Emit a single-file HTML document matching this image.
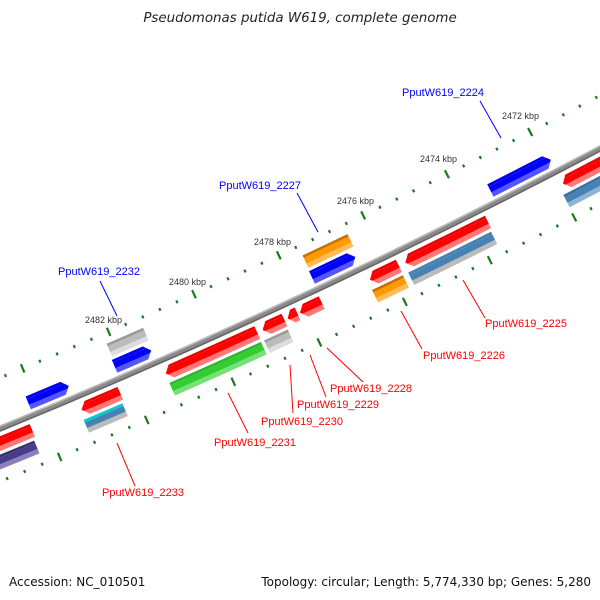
<!DOCTYPE html>
<html><head><meta charset="utf-8">
<style>
html,body{margin:0;padding:0;background:#fff;}
svg{display:block;font-family:"Liberation Sans",sans-serif;}
</style></head>
<body>
<svg id="s" width="600" height="600" viewBox="0 0 600 600" xmlns="http://www.w3.org/2000/svg">
<rect width="600" height="600" fill="#fff"/>
<g id="ticks"></g>
<g id="bb"></g>
<g id="feat"></g>
<g stroke-width="1">
<line x1="480" y1="101" x2="501" y2="138" stroke="#0000ff"/>
<line x1="297" y1="193" x2="318" y2="232" stroke="#0000ff"/>
<line x1="100" y1="281" x2="117" y2="316" stroke="#0000ff"/>
<line x1="463" y1="280" x2="485" y2="318" stroke="#ff0000"/>
<line x1="401" y1="311" x2="422" y2="349" stroke="#ff0000"/>
<line x1="327" y1="348" x2="363" y2="382" stroke="#ff0000"/>
<line x1="310" y1="355" x2="326" y2="397" stroke="#ff0000"/>
<line x1="290" y1="365" x2="293" y2="413" stroke="#ff0000"/>
<line x1="228" y1="393" x2="248" y2="433" stroke="#ff0000"/>
<line x1="117" y1="443" x2="135" y2="486" stroke="#ff0000"/>
</g>
<g font-size="11" fill="#0000ff">
<text x="402" y="96">PputW619_2224</text>
<text x="219" y="189">PputW619_2227</text>
<text x="58" y="275">PputW619_2232</text>
</g>
<g font-size="11" fill="#ff0000">
<text x="485" y="327">PputW619_2225</text>
<text x="423" y="359">PputW619_2226</text>
<text x="330" y="392">PputW619_2228</text>
<text x="297" y="408">PputW619_2229</text>
<text x="261" y="425">PputW619_2230</text>
<text x="214" y="446">PputW619_2231</text>
<text x="102" y="496">PputW619_2233</text>
</g>
<g font-size="9" fill="#333">
<text x="502" y="119">2472 kbp</text>
<text x="420" y="162">2474 kbp</text>
<text x="337" y="204">2476 kbp</text>
<text x="254" y="245">2478 kbp</text>
<text x="169" y="285">2480 kbp</text>
<text x="85" y="323">2482 kbp</text>
</g>
<text x="300" y="22" font-size="13.4" font-style="italic" text-anchor="middle" fill="#222" style="font-family:'DejaVu Sans',sans-serif">Pseudomonas putida W619, complete genome</text>
<text x="9" y="586" font-size="12" fill="#111" style="font-family:'DejaVu Sans',sans-serif">Accession: NC_010501</text>
<text x="591" y="586" font-size="12" fill="#111" text-anchor="end" style="font-family:'DejaVu Sans',sans-serif">Topology: circular; Length: 5,774,330 bp; Genes: 5,280</text>
</svg>
<script>
(function(){
var NS="http://www.w3.org/2000/svg";
var CX=-2623,CY=-5975,R0=6920,D2R=Math.PI/180;
function pt(phi,r){return [CX+r*Math.cos(phi*D2R),CY+r*Math.sin(phi*D2R)];}
function el(p,tag,attrs){var e=document.createElementNS(NS,tag);for(var k in attrs)e.setAttribute(k,attrs[k]);p.appendChild(e);return e;}
function arcPath(p1,p2,r1,r2){
 var a=pt(p1,r1),b=pt(p2,r1),c=pt(p2,r2),d=pt(p1,r2);
 return "M"+a+" A"+r1+","+r1+" 0 0 1 "+b+" L"+c+" A"+r2+","+r2+" 0 0 0 "+d+"Z";
}
var bb=document.getElementById("bb");
var pa=54,pb=70;
el(bb,"path",{d:arcPath(pa,pb,R0-3,R0+3),fill:"#8a8a8a"});
el(bb,"path",{d:arcPath(pa,pb,R0-3,R0-1.5),fill:"#b8b8b8"});
el(bb,"path",{d:arcPath(pa,pb,R0+1.5,R0+3),fill:"#666"});
var tg=document.getElementById("ticks");
var step=0.389*0.4;
for(var i=-40;i<=40;i++){
 var phi=63.47+i*step;
 var big=(i%5==0);
 [6873,6969].forEach(function(r){
  var h=big?4.5:1.5;
  var a=pt(phi,r-h),b=pt(phi,r+h);
  el(tg,"line",{x1:a[0],y1:a[1],x2:b[0],y2:b[1],stroke:"#1a7a1a","stroke-width":2.2});
 });
}
var rings={ui:[-20,-6],uo:[-37,-23],li:[7,21],lo:[24,38]};
var F=[
 [520,174,68,"ui",1,["#0000ee","#0000ff","#5555ff"]],
 [328,251,50,"uo",0,["#c87000","#ff9900","#ffbb55"]],
 [334,268,48,"ui",1,["#0000ee","#0000ff","#5555ff"]],
 [128,343,40,"uo",0,["#999","#bbb","#ddd"]],
 [134,361,40,"ui",1,["#0000ee","#0000ff","#5555ff"]],
 [50,398,44,"ui",1,["#0000ee","#0000ff","#5555ff"]],
 [592,170,64,"li",-1,["#ee0000","#ff0000","#ff7777"]],
 [597,190,64,"lo",0,["#3d6f9c","#4682b4","#8fb3d6"]],
 [447,243,92,"li",-1,["#ee0000","#ff0000","#ff7777"]],
 [453,259,92,"lo",0,["#4682b4","#4682b4","#bbbbbb"]],
 [385,274,32,"li",-1,["#ee0000","#ff0000","#ff7777"]],
 [391,290,34,"lo",0,["#c87000","#ff9900","#ffbb55"]],
 [311,308,24,"li",-1,["#ee0000","#ff0000","#ff7777"]],
 [293,317,11,"li",-1,["#ee0000","#ff0000","#ff7777"]],
 [274,326,24,"li",-1,["#ee0000","#ff0000","#ff7777"]],
 [280,344,26,"lo",0,["#999","#bbb","#ddd"]],
 [212,354,100,"li",-1,["#ee0000","#ff0000","#ff7777"]],
 [219,371,100,"lo",0,["#2bb82b","#33cc33","#77e077"]],
 [102,404,42,"li",-1,["#ee0000","#ff0000","#ff7777"]],
 [107,421,42,"lo",0,["#00cccc","#4682b4","#bbbbbb"]],
 [5,443,60,"li",0,["#ee0000","#ff0000","#ff7777"]],
 [10,461,60,"lo",0,["#3b3270","#483d8b","#8a80c0"]]
];
var fg=document.getElementById("feat");
var degPerPx=1/(R0*D2R);
F.forEach(function(f,idx){
 var phic=Math.atan2(f[1]-CY,f[0]-CX)/D2R;
 var half=f[2]/2*degPerPx;
 var p1=phic-half,p2=phic+half;
 var rr=rings[f[3]],r1=R0+rr[0],r2=R0+rr[1];
 var tip=Math.min(7,f[2]*0.6)*degPerPx;
 var cols=f[5];
 var bands=[[r1,r1+(r2-r1)*0.2,cols[0]],[r1+(r2-r1)*0.2,r1+(r2-r1)*0.65,cols[1]],[r1+(r2-r1)*0.65,r2,cols[2]]];
 var clipId="c"+idx;
 var cp=el(fg,"clipPath",{id:clipId});
 var d;
 if(f[4]==0){d=arcPath(p1,p2,r1,r2);}
 else{
  var rm=(r1+r2)/2,a,b,c,e,t;
  if(f[4]==1){a=pt(p1+tip,r1-1);b=pt(p2,r1);c=pt(p2,r2);e=pt(p1+tip,r2+1);t=pt(p1,rm);}
  else{a=pt(p2-tip,r1-1);b=pt(p1,r1);c=pt(p1,r2);e=pt(p2-tip,r2+1);t=pt(p2,rm);}
  d="M"+a+" L"+b+" L"+c+" L"+e+" L"+t+"Z";
 }
 el(cp,"path",{d:d});
 var g=el(fg,"g",{"clip-path":"url(#"+clipId+")"});
 bands.forEach(function(bd){
  el(g,"path",{d:arcPath(p1-0.01,p2+0.01,bd[0],bd[1]),fill:bd[2]});
 });
});
})();
</script>
</body></html>
